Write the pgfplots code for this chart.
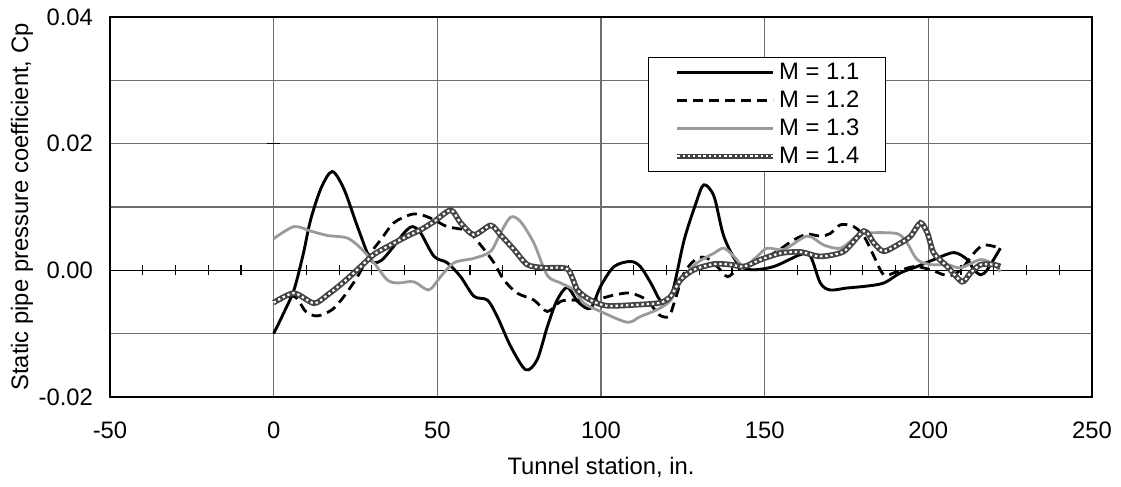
\documentclass[border=0pt]{standalone}
\usepackage{pgfplots}
\pgfplotsset{compat=1.18}
\usepackage{fontspec}
\setmainfont{Liberation Sans}
\definecolor{gridc}{HTML}{6E6E6E}
\definecolor{m13}{HTML}{9A9A9A}
\definecolor{m14}{HTML}{444444}
\begin{document}
\begin{tikzpicture}
\begin{axis}[
  scale only axis, width=491pt, height=190pt,
  xmin=-50, xmax=250, ymin=-0.02, ymax=0.04,
  xtick={-50,0,50,100,150,200,250},
  ytick={-0.02,0,0.02,0.04},
  minor ytick={-0.01,0.01,0.03},
  scaled y ticks=false,
  yticklabel style={/pgf/number format/fixed, /pgf/number format/fixed zerofill, /pgf/number format/precision=2, xshift=-5pt},
  xticklabel style={yshift=-9pt},
  /pgf/number format/assume math mode=true,
  font=\fontsize{11.9}{14}\selectfont,
  tick style={draw=none},
  xmajorgrids, ymajorgrids, yminorgrids,
  major grid style={draw=gridc, line width=0.6pt},
  minor grid style={draw=gridc, line width=0.6pt},
  axis line style={line width=1pt},
  xlabel={Tunnel station, in.},
  ylabel={Static pipe pressure coefficient, Cp},
  every axis x label/.style={at={(axis description cs:0.5,-0.184)}, anchor=center},
  every axis y label/.style={at={(axis description cs:-0.0896,0.5)}, anchor=center, rotate=90},
  legend style={at={(0.790,0.895)}, anchor=north east, draw=black, line width=0.5pt,
    font=\fontsize{11.9}{14}\selectfont,
    nodes={inner sep=0pt, text height=8.6pt, text depth=1.4pt},
    row sep=4pt, inner xsep=13pt, inner ysep=2.5pt},
  legend cell align=left,
  legend image code/.code={\draw[#1] (0pt,0pt) -- (48pt,0pt);},
  /tikz/every odd column/.append style={column sep=1.5pt},
]
% axis line at y = 0 with minor ticks
\draw[black, line width=0.7pt] (axis cs:-50,0) -- (axis cs:250,0);
\pgfplotsinvokeforeach{-40,-30,-20,-10,10,20,30,40,60,70,80,90,110,120,130,140,160,170,180,190,210,220,230,240}{
  \draw[black, line width=0.6pt] ([yshift=-2.5pt]axis cs:#1,0) -- ([yshift=2.5pt]axis cs:#1,0);
}
\draw[black, line width=0.6pt] ([xshift=-3.2pt]axis cs:0,0.02) -- ([xshift=3.2pt]axis cs:0,0.02);
\coordinate (bl) at (rel axis cs:0,0);
\coordinate (tr) at (rel axis cs:1,1);

\addplot[black, line width=1.45pt, smooth, tension=0.5] coordinates {
(0,-0.0100) (3,-0.0068) (6.2,-0.0031) (9,0.0025) (11.3,0.0080) (14.5,0.0130)
(17.9,0.0156) (21.5,0.0128) (25.6,0.0069) (29.6,0.0017) (32.7,0.0015) (36.7,0.0038)
(40,0.0060) (42.4,0.0069) (44.9,0.0059) (49,0.0022) (53,0.0012) (57.1,-0.0010)
(61.2,-0.0041) (65.3,-0.0047) (68.3,-0.0073) (72.4,-0.0120) (77,-0.0157) (80.5,-0.0141)
(83.6,-0.0089) (86.5,-0.0048) (89.7,-0.0027) (93,-0.0050) (96.8,-0.0060) (99.9,-0.0025)
(104,0.0006) (109,0.0014) (112,0.0006) (115.2,-0.0020) (118,-0.0047) (120.2,-0.0052)
(122.3,-0.0025) (125.4,0.0048) (129,0.0106) (131.4,0.0135) (134.5,0.0117) (137.5,0.0054)
(141.6,0.0012) (145.7,0.0001) (152.8,0.0006) (161,0.0025) (164,0.0022) (167,-0.0020)
(170,-0.0031) (175,-0.0028) (181,-0.0025) (186.4,-0.0020) (191.5,-0.0004) (196.6,0.0006)
(201.7,0.0017) (207.8,0.0028) (211.9,0.0017) (213.9,0.0001) (216,-0.0007) (218,0.0001)
(222,0.0035)
};
\addlegendentry{M = 1.1}

\addplot[black, line width=1.4pt, dash pattern=on 5pt off 3pt, smooth, tension=0.5] coordinates {
(0,-0.0052) (6.2,-0.0041) (9.8,-0.0065) (13.3,-0.0072) (17.9,-0.0062) (21.5,-0.0041)
(25.6,-0.0010) (29.6,0.0027) (32.7,0.0048) (36.7,0.0075) (41.8,0.0088) (44.9,0.0088)
(49,0.0080) (53,0.0069) (59.2,0.0062) (63.2,0.0040) (67.3,0.0012) (70.3,-0.0015)
(74.4,-0.0036) (79.5,-0.0047) (83.6,-0.0065) (87.7,-0.0049) (91.7,-0.0047) (97.8,-0.0047)
(104,-0.0039) (109,-0.0036) (114,-0.0047) (117.7,-0.0070) (120.7,-0.0073) (122.3,-0.0052)
(125.4,-0.0004) (129.4,0.0019) (132.5,0.0019) (135.5,0.0006) (138.6,-0.0010) (141.6,0.0001)
(146.7,0.0012) (152.8,0.0027) (158.9,0.0048) (163,0.0057) (167,0.0054) (170,0.0058)
(173.2,0.0072) (177.2,0.0069) (180.3,0.0054) (183.4,0.0022) (186.4,-0.0007) (190.5,-0.0002)
(195.6,0.0006) (200.7,0.0001) (204.7,-0.0007) (207.8,-0.0007) (210.8,0.0006) (213.9,0.0027)
(217,0.0040) (222,0.0035)
};
\addlegendentry{M = 1.2}

\addplot[m13, line width=1.4pt, smooth, tension=0.5] coordinates {
(0,0.0050) (6.2,0.0069) (11.3,0.0062) (16.4,0.0055) (22.5,0.0051) (26.6,0.0035)
(30.6,0.0012) (34.7,-0.0015) (37.8,-0.0020) (42.8,-0.0018) (47.4,-0.0031) (51,-0.0010)
(55.1,0.0012) (61.2,0.0019) (66.3,0.0030) (69.3,0.0059) (72.4,0.0084) (75.4,0.0077)
(79.5,0.0043) (83.6,-0.0008) (87.7,-0.0020) (91.7,-0.0031) (94.8,-0.0052) (99.9,-0.0065)
(108,-0.0082) (112,-0.0073) (117.2,-0.0062) (121.3,-0.0047) (124.3,-0.0015) (129.4,0.0012)
(134.5,0.0027) (137.5,0.0035) (140.6,0.0022) (143.7,0.0006) (147.7,0.0022) (150.8,0.0035)
(155.9,0.0033) (163,0.0054) (168,0.0040) (173.2,0.0035) (178.1,0.0054) (181.2,0.0059)
(190.4,0.0058) (193.5,0.0043) (196.6,0.0017) (200.7,0.0009) (205.8,0.0009) (209.9,0.0004)
(216,0.0017) (220,0.0009) (222,-0.0002)
};
\addlegendentry{M = 1.3}

\addplot[m14, line width=2.8pt, smooth, tension=0.45,
  postaction={draw=white, line width=1.1pt, dash pattern=on 1.2pt off 1.4pt}] coordinates {
(0,-0.0051) (6.2,-0.0036) (12.3,-0.0052) (16.4,-0.0039) (21.5,-0.0018) (26.6,0.0006)
(30.6,0.0025) (35.7,0.0040) (40.8,0.0054) (44.9,0.0064) (49,0.0077) (54.1,0.0095)
(57.1,0.0075) (61.2,0.0056) (66.3,0.0071) (69.3,0.0056) (73.4,0.0033) (77.5,0.0009)
(82.6,0.0004) (89.7,0.0002) (92.8,-0.0031) (96.8,-0.0047) (101.9,-0.0056) (112,-0.0054)
(118.2,-0.0051) (121.3,-0.0041) (124.3,-0.0015) (128.4,0.0001) (134.5,0.0010) (139.6,0.0009)
(143.7,0.0006) (148.8,0.0017) (154.9,0.0027) (161,0.0029) (167,0.0022) (174.2,0.0030)
(180.3,0.0062) (183.4,0.0043) (186.4,0.0030) (191.5,0.0043) (194.6,0.0054) (197.6,0.0075)
(199.7,0.0059) (201.7,0.0027) (205.8,0.0006) (210.3,-0.0018) (212.9,-0.0004) (216,0.0009)
(220,0.0009) (222,0.0006)
};
\addlegendentry{M = 1.4}
\end{axis}
\pgfresetboundingbox
\path[use as bounding box] ([shift={(-55pt,-44.5pt)}]bl) rectangle ([shift={(14.5pt,8.5pt)}]tr);
\end{tikzpicture}
\end{document}
